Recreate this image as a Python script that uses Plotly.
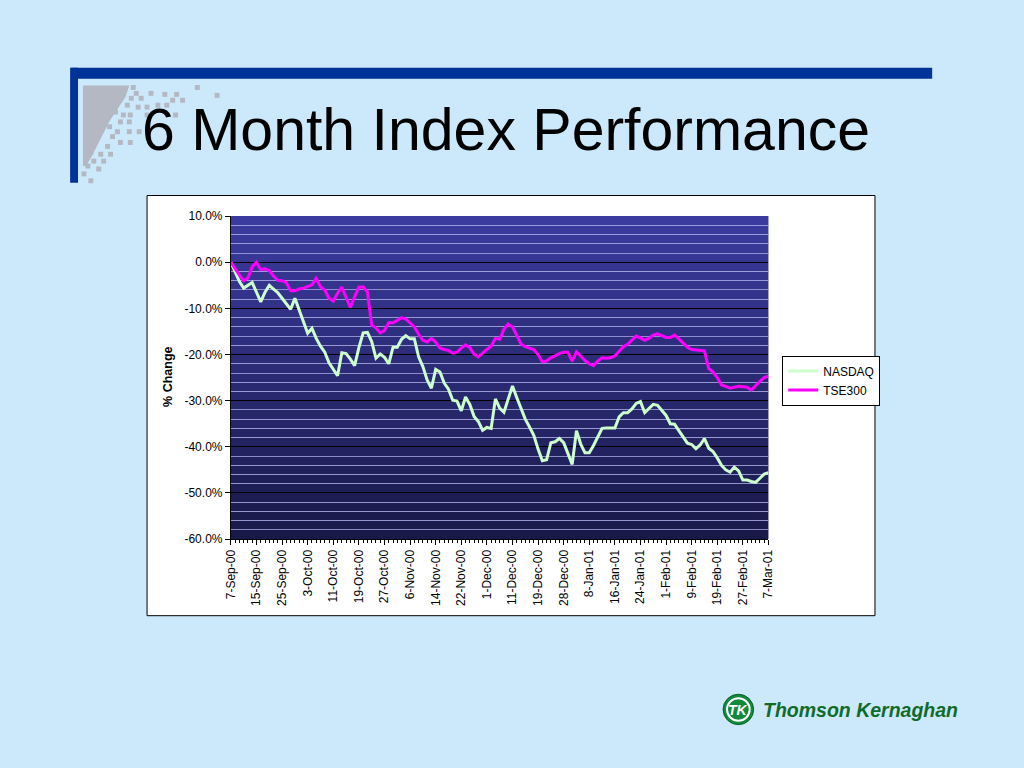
import plotly.graph_objects as go

W, H = 1024, 768

date_labels = ["7-Sep-00", "15-Sep-00", "25-Sep-00", "3-Oct-00", "11-Oct-00", "19-Oct-00",
               "27-Oct-00", "6-Nov-00", "14-Nov-00", "22-Nov-00", "1-Dec-00", "11-Dec-00",
               "19-Dec-00", "28-Dec-00", "8-Jan-01", "16-Jan-01", "24-Jan-01", "1-Feb-01",
               "9-Feb-01", "19-Feb-01", "27-Feb-01", "7-Mar-01"]
label_every = 6

nasdaq = [0, -2.2, -4.2, -5.6, -5.0, -4.4, -6.5, -8.6, -6.5, -5.0,
          -5.8, -6.6, -7.8, -9.0, -10.2, -7.8, -10.5, -13.2, -15.4, -14.3,
          -16.5, -18.2, -19.5, -21.8, -23.2, -24.6, -19.6, -19.8, -21.0, -22.4,
          -18.5, -15.3, -15.2, -17.2, -20.8, -19.9, -20.6, -22.0, -18.4, -18.4,
          -16.7, -15.9, -16.6, -16.6, -20.5, -22.6, -25.5, -27.3, -23.2, -23.8,
          -26.2, -27.5, -29.9, -30.1, -32.2, -29.2, -30.8, -33.4, -34.5, -36.4,
          -35.8, -36.0, -29.6, -31.6, -32.5, -29.5, -26.8, -29.3, -31.8, -34.0,
          -35.7, -37.5, -40.5, -43.0, -42.8, -39.1, -38.9, -38.2, -39.1, -41.5,
          -43.8, -36.5, -39.4, -41.3, -41.3, -39.7, -37.8, -36.0, -35.9, -35.9,
          -35.9, -33.5, -32.6, -32.6, -31.8, -30.6, -30.2, -32.6, -31.6, -30.8,
          -31.0, -32.0, -33.2, -35.0, -35.1, -36.5, -38.0, -39.2, -39.5, -40.4,
          -39.6, -38.2, -40.3, -41.0, -42.4, -44.0, -45.0, -45.5, -44.4, -45.2,
          -47.2, -47.2, -47.5, -47.7, -46.8, -45.9, -45.6]

tse300 = [0, -1.5, -2.8, -4.0, -3.4, -1.0, 0.0, -1.6, -1.4, -1.8,
          -3.0, -3.9, -4.0, -4.4, -6.2, -6.2, -5.8, -5.6, -5.2, -4.9,
          -3.5, -5.3, -6.0, -7.8, -8.4, -6.7, -5.4, -7.8, -9.8, -7.5,
          -5.4, -5.3, -6.4, -13.6, -14.2, -15.3, -14.8, -13.1, -13.1, -12.6,
          -12.0, -12.3, -13.1, -14.0, -15.6, -16.9, -17.3, -16.5, -17.3, -18.6,
          -18.9, -19.1, -19.7, -19.5, -18.6, -17.9, -18.5, -19.9, -20.5, -19.6,
          -18.9, -18.2, -16.5, -16.7, -14.5, -13.4, -14.0, -15.8, -17.7, -18.3,
          -18.6, -18.9, -20.0, -21.6, -21.4, -20.7, -20.3, -19.8, -19.5, -19.5,
          -21.4, -19.4, -20.3, -21.3, -22.0, -22.4, -21.4, -20.7, -20.8, -20.7,
          -20.3, -19.3, -18.3, -17.8, -17.0, -16.0, -16.4, -16.9, -16.5, -15.8,
          -15.5, -15.9, -16.3, -16.3, -15.8, -16.6, -17.6, -18.4, -18.9, -19.0,
          -19.1, -19.2, -23.0, -23.8, -25.0, -26.6, -26.9, -27.3, -27.1, -26.9,
          -27.0, -27.1, -27.7, -26.7, -25.8, -25.0, -24.7]

y_ticks = [10, 0, -10, -20, -30, -40, -50, -60]
y_tick_labels = ["10.0%", "0.0%", "-10.0%", "-20.0%", "-30.0%", "-40.0%", "-50.0%", "-60.0%"]

FONT = "Liberation Sans, Arial, sans-serif"


def px(x):
    return x / W


def py(y):
    return 1 - y / H


xs = list(range(len(nasdaq)))
tickvals = list(range(0, len(nasdaq), label_every))

fig = go.Figure()
fig.add_trace(go.Scatter(x=xs, y=nasdaq, mode="lines", name="NASDAQ",
                         line=dict(color="#ccffcc", width=3)))
fig.add_trace(go.Scatter(x=xs, y=tse300, mode="lines", name="TSE300",
                         line=dict(color="#ff00ff", width=3)))

shapes = []
# white chart box
shapes.append(dict(type="rect", xref="paper", yref="paper",
                   x0=px(142), x1=px(880), y0=py(620), y1=py(192),
                   fillcolor="white", line=dict(color="black", width=1), layer="below"))
# gradient background bands in plot area
top = (60, 60, 160)
bot = (24, 24, 72)
nb = 35
for k in range(nb):
    t = (k + 0.5) / nb
    c = tuple(int(round(bot[j] + (top[j] - bot[j]) * t)) for j in range(3))
    shapes.append(dict(type="rect", xref="x domain", yref="y",
                       x0=0, x1=1, y0=-60 + 2 * k, y1=-60 + 2 * (k + 1),
                       fillcolor="rgb(%d,%d,%d)" % c, line=dict(width=0), layer="below"))
# title frame bars
shapes.append(dict(type="rect", xref="paper", yref="paper",
                   x0=px(65), x1=px(938), y0=py(73), y1=py(62),
                   fillcolor="#003399", line=dict(width=0), layer="below"))
shapes.append(dict(type="rect", xref="paper", yref="paper",
                   x0=px(64), x1=px(72), y0=py(179), y1=py(62),
                   fillcolor="#003399", line=dict(width=0), layer="below"))
# grey pixel decoration
grey = "#b3b8c2"
poly = [(77, 80), (124, 80), (120, 92), (112, 104), (104, 116), (98, 128),
        (92, 140), (86, 152), (80, 162), (77, 162)]
path = "M " + " L ".join("%f,%f" % (px(a), py(b)) for a, b in poly) + " Z"
shapes.append(dict(type="path", xref="paper", yref="paper", path=path,
                   fillcolor=grey, line=dict(width=0), layer="below"))
squares = [(128, 82), (131, 88), (126, 93), (136, 93), (146, 88), (160, 89), (172, 89),
           (168, 95), (178, 95), (193, 82), (213, 90), (122, 100), (133, 102), (142, 102),
           (153, 100), (162, 100), (142, 110), (171, 110), (118, 110), (110, 107), (125, 110),
           (115, 117), (124, 117), (112, 127), (124, 127), (134, 127), (104, 122), (107, 132),
           (115, 138), (125, 138), (102, 142), (95, 150), (105, 150), (85, 148), (88, 157),
           (98, 157), (82, 162), (93, 165), (78, 170), (85, 177)]
for (cx, cy) in squares:
    shapes.append(dict(type="rect", xref="paper", yref="paper",
                       x0=px(cx - 2.5), x1=px(cx + 2.5), y0=py(cy + 2.5), y1=py(cy - 2.5),
                       fillcolor=grey, line=dict(width=0), layer="below"))
# logo circle
shapes.append(dict(type="circle", xref="paper", yref="paper",
                   x0=px(726), x1=px(757), y0=py(731), y1=py(700),
                   fillcolor="#118a3a", line=dict(color="#0b5e28", width=1), layer="above"))
shapes.append(dict(type="circle", xref="paper", yref="paper",
                   x0=px(730), x1=px(753), y0=py(727), y1=py(704),
                   fillcolor="#118a3a", line=dict(color="white", width=2), layer="above"))

annotations = [
    dict(text="6 Month Index Performance", xref="paper", yref="paper",
         x=px(135), y=py(125), xanchor="left", yanchor="middle", showarrow=False,
         font=dict(family=FONT, size=59, color="black")),
    dict(text="<b>% Change</b>", xref="paper", yref="paper", textangle=-90,
         x=px(163), y=py(377), xanchor="center", yanchor="middle", showarrow=False,
         font=dict(family=FONT, size=12.5, color="black")),
    dict(text="<b><i>TK</i></b>", xref="paper", yref="paper",
         x=px(741.5), y=py(716), xanchor="center", yanchor="middle", showarrow=False,
         font=dict(family=FONT, size=14, color="white")),
    dict(text="<b><i>Thomson Kernaghan</i></b>", xref="paper", yref="paper",
         x=px(764), y=py(716), xanchor="left", yanchor="middle", showarrow=False,
         font=dict(family=FONT, size=19.5, color="#0f6b2a")),
]

fig.update_layout(
    width=W, height=H,
    margin=dict(l=0, r=0, t=0, b=0),
    paper_bgcolor="#cce8fb",
    plot_bgcolor="rgba(0,0,0,0)",
    font=dict(family=FONT, size=12, color="black"),
    shapes=shapes,
    annotations=annotations,
    showlegend=True,
    legend=dict(x=px(786), y=py(355), xanchor="left", yanchor="top",
                bgcolor="white", bordercolor="black", borderwidth=1,
                font=dict(family=FONT, size=12, color="black"),
                itemwidth=30, tracegroupgap=0),
    xaxis=dict(domain=[px(227), px(772)], range=[0, len(nasdaq) - 1],
               tickmode="array", tickvals=tickvals, ticktext=date_labels,
               tickangle=-90, ticks="outside", ticklen=5, tickcolor="black",
               showline=True, linecolor="black", linewidth=1,
               showgrid=False, zeroline=False,
               tickfont=dict(family=FONT, size=12, color="black"),
               minor=dict(tickmode="linear", tick0=0, dtick=1, ticks="outside",
                          ticklen=3, tickcolor="black", showgrid=False)),
    yaxis=dict(domain=[py(542), py(213)], range=[-60, 10],
               tickmode="array", tickvals=y_ticks, ticktext=y_tick_labels,
               ticks="outside", ticklen=5, tickcolor="black",
               showline=True, linecolor="black", linewidth=1,
               showgrid=True, gridcolor="black", gridwidth=1, zeroline=False,
               tickfont=dict(family=FONT, size=12, color="black"),
               minor=dict(tickmode="linear", tick0=0, dtick=2, ticks="",
                          showgrid=True, gridcolor="rgba(175,175,235,0.75)", gridwidth=1)),
)

page_js = ("document.body.style.margin='0';document.body.style.padding='0';"
           "document.body.style.overflow='hidden';"
           "document.documentElement.style.overflow='hidden';"
           "document.body.style.background='#cce8fb';")

fig.write_html("out.html", post_script=page_js, config={"displayModeBar": False})
